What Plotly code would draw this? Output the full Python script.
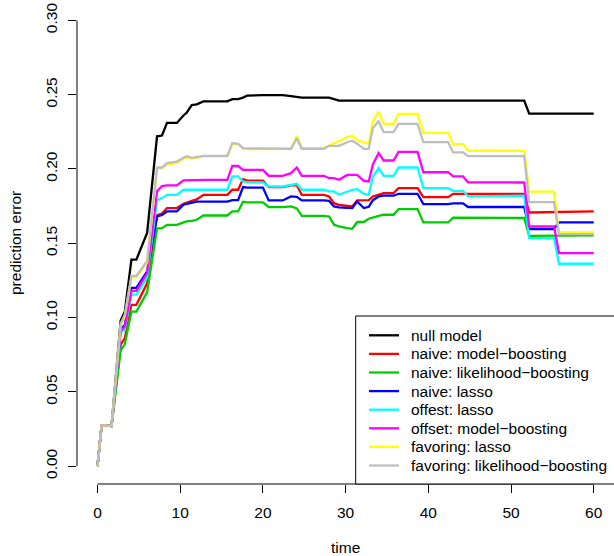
import plotly.graph_objects as go

# ---------------- data ----------------
time = [0, 0.5, 1.7, 2.8, 3.3, 4.1, 4.7, 6.0, 7.2, 7.8,
        8.4, 9.6, 10.4, 10.8, 11.4, 12.0, 12.8, 15.7, 16.3, 17.0,
        17.6, 18.1, 20.0, 20.7, 22.4, 23.4, 24.1, 24.7, 27.4, 28.0,
        28.6, 29.2, 30.2, 30.8, 31.4, 32.2, 32.8, 33.3, 34.0, 34.6,
        35.8, 36.4, 38.7, 39.4, 42.4, 43.0, 44.2, 44.8, 51.6, 52.2,
        55.2, 55.8, 60.0]

null_model = [0, .0276, .027, .098, .104, .139, .139, .157, .222, .2225,
              .231, .231, .236, .238, .243, .2435, .2455, .2455, .247, .247,
              .248, .2494, .2497, .2497, .2497, .249, .2485, .248, .248, .248,
              .247, .246, .246, .246, .246, .246, .246, .246, .246, .246,
              .246, .246, .246, .246, .246, .246, .246, .246, .246, .2373,
              .2373, .2373, .2373]

naive_model_boosting = [0, .0276, .027, .082, .086, .1086, .1086, .123, .169, .170,
                        .1737, .1737, .1766, .1775, .1785, .1795, .1826, .1826, .186, .186,
                        .1932, .1922, .1922, .1878, .1878, .189, .189, .1826, .1826, .1815,
                        .177, .1759, .1752, .1748, .1788, .179, .179, .1815, .1826, .1838,
                        .1838, .1871, .1871, .181, .181, .1833, .1833, .1833, .1833, .1707,
                        .171, .1714, .1714]

naive_likelihood_boosting = [0, .0276, .027, .078, .082, .104, .104, .117, .160, .1602,
                             .1624, .1624, .164, .1647, .165, .1658, .1687, .1687, .1714, .1714,
                             .178, .1775, .1775, .1743, .1743, .1748, .1735, .1685, .1685, .168,
                             .1625, .1613, .1602, .1597, .1643, .1643, .1665, .1674, .1685, .1692,
                             .1692, .173, .173, .164, .164, .1672, .1672, .1672, .167, .155,
                             .155, .1553, .1553]

naive_lasso = [0, .0276, .027, .092, .095, .12, .12, .131, .168, .169,
               .1714, .1714, .176, .1765, .177, .178, .178, .178, .179, .179,
               .1878, .1875, .1875, .1788, .1788, .1815, .1812, .1788, .1788, .1785,
               .1748, .1741, .1738, .1737, .1781, .1737, .1745, .179, .1815, .182,
               .182, .1833, .1833, .1764, .1764, .1768, .1768, .1744, .1744, .1595,
               .1595, .164, .164]

offset_lasso = [0, .0276, .027, .09, .092, .1154, .1154, .127, .179, .1804,
                .1826, .1826, .186, .186, .186, .186, .186, .186, .195, .195,
                .1916, .191, .191, .1882, .1882, .189, .19, .186, .186, .1849,
                .1849, .1826, .1845, .186, .1864, .1833, .1826, .1949, .2006, .1954,
                .1954, .201, .201, .1871, .1871, .1853, .1853, .1815, .182, .1535,
                .1535, .1362, .1362]

offset_model_boosting = [0, .0276, .027, .091, .094, .118, .118, .13, .185, .1885,
                         .189, .189, .1923, .1925, .1925, .1925, .1927, .1927, .2021, .202,
                         .1994, .1994, .1994, .1954, .1954, .1972, .201, .1954, .1954, .1938,
                         .1938, .1927, .196, .196, .196, .192, .1916, .203, .2107, .2057,
                         .2057, .2115, .2115, .1978, .1978, .195, .195, .191, .1909, .1613,
                         .1613, .1434, .1434]

favoring_lasso = [0, .0276, .027, .095, .101, .127, .127, .137, .2, .2005,
                  .203, .204, .207, .208, .207, .2075, .2085, .2085, .217, .2165,
                  .2135, .2133, .2133, .2133, .2133, .2135, .2223, .214, .214, .2156,
                  .217, .2185, .2215, .2223, .2195, .2178, .217, .232, .2386, .2303,
                  .2303, .2371, .2371, .2243, .2243, .2167, .2167, .2124, .2122, .1848,
                  .1848, .1573, .1573]

favoring_likelihood_boosting = [0, .0276, .027, .096, .102, .128, .128, .138, .201, .201,
                                .204, .205, .2075, .2085, .2075, .208, .2088, .2088, .2174, .217,
                                .214, .2138, .2136, .2136, .2136, .2136, .2207, .2136, .2136, .2156,
                                .2156, .2156, .218, .219, .217, .2135, .2135, .2275, .232, .2248,
                                .2248, .2304, .2304, .218, .218, .2111, .2111, .2086, .2086, .1777,
                                .1777, .1562, .1562]

series_names = ["null model", "naive: model\u2212boosting", "naive: likelihood\u2212boosting",
                "naive: lasso", "offest: lasso", "offset: model\u2212boosting",
                "favoring: lasso", "favoring: likelihood\u2212boosting"]
series_values = [null_model, naive_model_boosting, naive_likelihood_boosting, naive_lasso,
                 offset_lasso, offset_model_boosting, favoring_lasso, favoring_likelihood_boosting]
series_colors = ["#000000", "#FF0000", "#00CD00", "#0000FF", "#00FFFF", "#FF00FF", "#FFFF00", "#BEBEBE"]

x_ticks = [0, 10, 20, 30, 40, 50, 60]
y_ticks = [0.00, 0.05, 0.10, 0.15, 0.20, 0.25, 0.30]

# ---------------- figure ----------------
W, H = 614, 556
ML, MR, MT, MB = 77, 1, 3, 72
PW, PH = W - ML - MR, H - MT - MB
X_PX_PER_UNIT = 8.27
X_LO = -20.5 / X_PX_PER_UNIT
X_HI = X_LO + PW / X_PX_PER_UNIT
Y_PX_PER_UNIT = 1486.0
Y_LO = -0.012
Y_HI = Y_LO + PH / Y_PX_PER_UNIT
FONT = "Liberation Sans, Arial, Helvetica, sans-serif"
FS = 15.5


def px_x(px):  # page pixel -> paper x
    return (px - ML) / PW


def px_y(py):  # page pixel -> paper y
    return (H - MB - py) / PH


fig = go.Figure()
for name, vals, col in zip(series_names, series_values, series_colors):
    assert len(vals) == len(time)
    fig.add_trace(go.Scatter(x=time, y=vals, mode="lines", name=name,
                             line=dict(color=col, width=2.3), showlegend=False))

shapes = []
annotations = []
# axis lines spanning first..last tick (R style)
shapes.append(dict(type="line", xref="x", yref="paper", x0=x_ticks[0], x1=x_ticks[-1], y0=0, y1=0,
                   line=dict(color="black", width=1)))
shapes.append(dict(type="line", xref="paper", yref="y", x0=0, x1=0, y0=y_ticks[0], y1=y_ticks[-1],
                   line=dict(color="black", width=1)))

# legend box
shapes.append(dict(type="rect", xref="paper", yref="paper", x0=px_x(355.7), x1=1.03,
                   y0=0, y1=px_y(316), fillcolor="white", line=dict(color="black", width=1),
                   layer="above"))
for i, (name, col) in enumerate(zip(series_names, series_colors)):
    py = 335.3 + 18.6 * i
    shapes.append(dict(type="line", xref="paper", yref="paper", x0=px_x(369), x1=px_x(399),
                       y0=px_y(py), y1=px_y(py), line=dict(color=col, width=2.3), layer="above"))
    annotations.append(dict(xref="paper", yref="paper", x=px_x(409), y=px_y(py), text=name,
                            showarrow=False, xanchor="left", yanchor="middle",
                            font=dict(family=FONT, size=FS, color="black")))

# axis titles
annotations.append(dict(xref="paper", yref="paper", x=px_x(345.5), y=px_y(547), text="time",
                        showarrow=False, xanchor="center", yanchor="middle",
                        font=dict(family=FONT, size=FS, color="black")))
annotations.append(dict(xref="paper", yref="paper", x=px_x(15), y=px_y(243), text="prediction error",
                        showarrow=False, xanchor="center", yanchor="middle", textangle=-90,
                        font=dict(family=FONT, size=FS, color="black")))

fig.update_layout(
    width=W, height=H,
    margin=dict(l=ML, r=MR, t=MT, b=MB, pad=0),
    plot_bgcolor="white", paper_bgcolor="white",
    font=dict(family=FONT, size=FS, color="black"),
    shapes=shapes, annotations=annotations,
    xaxis=dict(range=[X_LO, X_HI], showgrid=False, zeroline=False, showline=False,
               ticks="outside", ticklen=8, tickwidth=1, tickcolor="black",
               tickvals=x_ticks, ticktext=[str(v) for v in x_ticks],
               tickfont=dict(family=FONT, size=FS, color="black"), ticklabelstandoff=6,
               ticklabeloverflow="allow"),
    yaxis=dict(range=[Y_LO, Y_HI], showgrid=False, zeroline=False, showline=False,
               ticks="outside", ticklen=8, tickwidth=1, tickcolor="black",
               tickvals=y_ticks, ticktext=["%.2f" % v for v in y_ticks], tickangle=-90,
               tickfont=dict(family=FONT, size=FS, color="black"), ticklabelstandoff=5,
               ticklabeloverflow="allow"),
)

# remove the browser's default 8px body margin so the figure fills the window exactly
fig.write_html("out.html",
               config={"displayModeBar": False},
               post_script="document.body.style.margin='0';document.body.style.overflow='hidden';")
